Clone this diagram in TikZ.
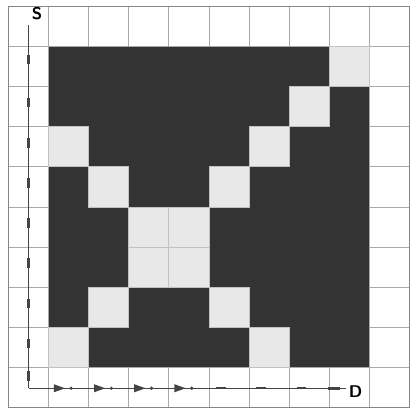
\documentclass[tikz,border=0pt]{standalone}
\usetikzlibrary{arrows.meta}
\definecolor{inkDark}{HTML}{333333}
\definecolor{paleFill}{HTML}{e8e8e8}
\definecolor{gridGrey}{HTML}{a8a8a8}
\definecolor{axisInk}{HTML}{444444}
\def\nCells{10}
\def\axisX{0.52}
\def\axisY{0.49}

\begin{document}
\begin{tikzpicture}[
    x=1cm, y=1cm,
    every node/.style={font=\sffamily\bfseries\large},
    cellgrid/.style={draw=gridGrey, line width=0.5pt},
    block/.style={fill=inkDark},
    pale/.style={fill=paleFill},
    axis/.style={draw=axisInk, line width=0.7pt},
    tickmark/.style={draw=axisInk, line width=2.2pt},
    ]
\useasboundingbox (-0.2,-0.1) rectangle (10.15,10.15);

% ====================================================================
% Dark block with pale diagonal cells
% ====================================================================
\fill[block] (1,1) rectangle (9,9);
\foreach \c/\r in {8/8, 7/7, 1/6, 6/6, 2/5, 5/5, 3/4, 4/4,
                   3/3, 4/3, 2/2, 5/2, 1/1, 6/1}{
    \fill[pale] (\c,\r) rectangle (\c+1,\r+1);
}

% Grid lines (only visible outside the dark block)
\begin{scope}
  \clip (0,0) rectangle (\nCells,\nCells);
  \foreach \i in {1,...,9}{
      \draw[cellgrid] (\i,0) -- (\i,1);
      \draw[cellgrid] (\i,9) -- (\i,\nCells);
      \draw[cellgrid] (0,\i) -- (1,\i);
      \draw[cellgrid] (9,\i) -- (\nCells,\i);
  }
  \draw[cellgrid] (1,0) -- (1,\nCells);
  \draw[cellgrid] (9,0) -- (9,\nCells);
  \draw[cellgrid] (0,1) -- (\nCells,1);
  \draw[cellgrid] (0,9) -- (\nCells,9);
\end{scope}
% pale cells keep their own edges
\foreach \c/\r in {8/8, 7/7, 1/6, 6/6, 2/5, 5/5, 3/4, 4/4,
                   3/3, 4/3, 2/2, 5/2, 1/1, 6/1}{
    \draw[cellgrid, draw=gridGrey!70] (\c,\r) rectangle (\c+1,\r+1);
}
\draw[draw=gridGrey!80!black, line width=0.7pt] (0,0) rectangle (\nCells,\nCells);

% ====================================================================
% Axes S and D
% ====================================================================
\coordinate (origin) at (\axisX,\axisY);
\coordinate (sTop) at (\axisX,9.53);
\coordinate (dEnd) at (8.4,\axisY);
\draw[axis] (origin) -- (sTop);
\draw[axis] (origin) -- (dEnd);
\node (labelS) at (0.72,9.8) {S};
\node (labelD) at (8.65,0.4) {D};

% marks along S
\foreach \y in {0.8,1.6,2.6,3.6,4.6,5.6,6.6,7.6,8.67}{
    \draw[tickmark] (\axisX,\y-0.12) -- (\axisX,\y+0.12);
}

% arrow marks along D
\foreach \x in {1.3,2.3,3.3,4.3}{
    \fill[axisInk] (\x-0.16,\axisY+0.1) -- (\x+0.12,\axisY)
      -- (\x-0.16,\axisY-0.1) -- cycle;
    \fill[axisInk] (\x+0.27,\axisY) circle (0.045);
}
\foreach \x in {5.3,6.3,7.3}{
    \draw[axisInk, line width=1.3pt] (\x-0.12,\axisY) -- (\x+0.12,\axisY);
}
\draw[axisInk, line width=1.8pt] (7.95,\axisY) -- (8.25,\axisY);

\end{tikzpicture}
\end{document}
